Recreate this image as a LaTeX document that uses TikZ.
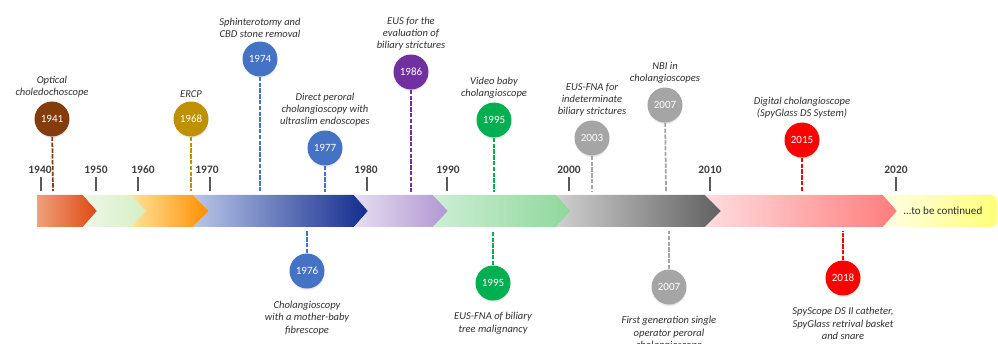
\documentclass[tikz,border=0pt]{standalone}
\usepackage{fontspec}
\setmainfont{Carlito}
\usetikzlibrary{positioning,shadows}
\definecolor{evbrown}{HTML}{843C0C}
\definecolor{evgold}{HTML}{BF9000}
\definecolor{evblue}{HTML}{4472C4}
\definecolor{evpurple}{HTML}{7030A0}
\definecolor{evgreen}{HTML}{00B050}
\definecolor{evgray}{HTML}{A5A5A5}
\definecolor{evred}{HTML}{FF0000}
\definecolor{captxt}{HTML}{303030}
\definecolor{yeartxt}{HTML}{404040}
\definecolor{ticktxt}{HTML}{595959}
\tikzstyle{event}=[circle,minimum size=0.7cm,inner sep=0pt,text=white,
  font=\fontsize{6.3}{7}\selectfont,
  circular drop shadow={shadow xshift=0pt,shadow yshift=-1.2pt,opacity=0.25,shadow scale=1}]
\tikzstyle{caption}=[align=center,text=captxt,inner sep=1pt,
  font=\fontsize{6}{6.9}\selectfont\itshape]
\tikzstyle{year}=[text=yeartxt,font=\fontsize{6.5}{7}\selectfont\bfseries]
\tikzstyle{stem}=[line width=1pt,dash pattern=on 2.5pt off 0.8pt]
\begin{document}
\begin{tikzpicture}[x=0.02cm,y=-0.02cm]
\useasboundingbox (0,0) rectangle (998,344);
% timeline bar
\foreach \a/\n/\b/\t/\ca/\cb in {37/37/83/97/F0A07A/DC4A12,
    83/97/131/146/EEF7E8/D5EFC5, 131/146/193/209/FFE39A/FF8E00,
    193/209/354/368/B9C6E8/132C8E, 354/368/433/448/E6DEF0/B097D3,
    433/448/556/571/CDEED5/8ED89B, 556/571/705/721/D0D0D0/606060,
    705/721/883/897/FFDDE0/FF7C7C}
{
  \definecolor{sa}{HTML}{\ca}\definecolor{sb}{HTML}{\cb}
  \shade[left color=sa,right color=sb] (\a,195) -- (\b,195) -- (\t,211)
    -- (\b,227) -- (\a,227) -- (\n,211) -- cycle;
}
\shade[left color={rgb,255:red,255;green,255;blue,230},right color={rgb,255:red,255;green,255;blue,120}]
  (883,195) [rounded corners=3pt] -- (997,195) -- (997,227) [sharp corners] -- (883,227) -- (897,211) -- cycle;
\node[font=\fontsize{6.3}{7}\selectfont,text=captxt] (cont) at (943,211) {\dots to be continued};
% years
\foreach \yr/\tx/\lx in {1940/41/40, 1950/96/96, 1960/138/143, 1970/210/207,
    1980/367/366, 1990/447/448, 2000/569/569, 2010/710/710, 2020/896/896}
{
  \node[year] (y\yr) at (\lx,170) {\yr};
  \draw[ticktxt,line width=0.8pt] (\tx,177) -- (\tx,191);
}
% events above the bar
\node[event,fill=evbrown] (e1941) at (52,119) {1941};
\node[caption,above=1pt of e1941] (c1941) {Optical\\choledochoscope};
\node[event,fill=evgold] (e1968) at (191,119) {1968};
\node[caption,above=1pt of e1968] (c1968) {ERCP};
\node[event,fill=evblue] (e1974) at (260,59) {1974};
\node[caption,above=1pt of e1974] (c1974) {Sphinterotomy and\\CBD stone removal};
\node[event,fill=evblue] (e1977) at (325,148) {1977};
\node[caption,above=1pt of e1977] (c1977) {Direct peroral\\cholangioscopy with\\ultraslim endoscopes};
\node[event,fill=evpurple] (e1986) at (411,72) {1986};
\node[caption,above=1pt of e1986] (c1986) {EUS for the\\evaluation of\\biliary strictures};
\node[event,fill=evgreen] (e1995a) at (494,120) {1995};
\node[caption,above=1pt of e1995a] (c1995a) {Video baby\\cholangioscope};
\node[event,fill=evgray] (e2003) at (592,138) {2003};
\node[caption,above=1pt of e2003] (c2003) {EUS-FNA for\\indeterminate\\biliary strictures};
\node[event,fill=evgray] (e2007a) at (665,105) {2007};
\node[caption,above=1pt of e2007a] (c2007a) {NBI in\\cholangioscopes};
\node[event,fill=evred] (e2015) at (802,140) {2015};
\node[caption,above=1pt of e2015] (c2015) {Digital cholangioscope\\(SpyGlass DS System)};
% events below the bar
\node[event,fill=evblue] (e1976) at (307,271) {1976};
\node[caption,below=6pt of e1976] (c1976) {Cholangioscopy\\with a mother-baby\\fibrescope};
\node[event,fill=evgreen] (e1995b) at (493,283) {1995};
\node[caption,below=5.5pt of e1995b] (c1995b) {EUS-FNA of biliary\\tree malignancy};
\node[event,fill=evgray] (e2007b) at (669,287) {2007};
\node[caption,below=5.5pt of e2007b] (c2007b) {First generation single\\operator peroral\\cholangioscope};
\node[event,fill=evred] (e2018) at (843,278) {2018};
\node[caption,below=5.5pt of e2018] (c2018) {SpyScope DS II catheter,\\SpyGlass retrival basket\\and snare};
% stems
\coordinate (s1941) at (53,191);
\coordinate (s1968) at (191,191);
\coordinate (s1974) at (260,192);
\coordinate (s1977) at (325,192);
\coordinate (s1986) at (411,192);
\coordinate (s1995a) at (494,192);
\coordinate (s2003) at (592,192);
\coordinate (s2007a) at (666,192);
\coordinate (s2015) at (802,192);
\coordinate (s1976) at (307,231);
\coordinate (s1995b) at (493,231);
\coordinate (s2007b) at (669,231);
\coordinate (s2018) at (843,231);
\path[stem]
    (e1941) edge[evbrown] (s1941)
    (e1968) edge[evgold] (s1968)
    (e1974) edge[evblue] (s1974)
    (e1977) edge[evblue] (s1977)
    (e1986) edge[evpurple] (s1986)
    (e1995a) edge[evgreen] (s1995a)
    (e2003) edge[evgray] (s2003)
    (e2007a) edge[evgray] (s2007a)
    (e2015) edge[evred] (s2015)
    (e1976) edge[evblue] (s1976)
    (e1995b) edge[evgreen] (s1995b)
    (e2007b) edge[evgray] (s2007b)
    (e2018) edge[evred] (s2018);
\end{tikzpicture}
\end{document}
